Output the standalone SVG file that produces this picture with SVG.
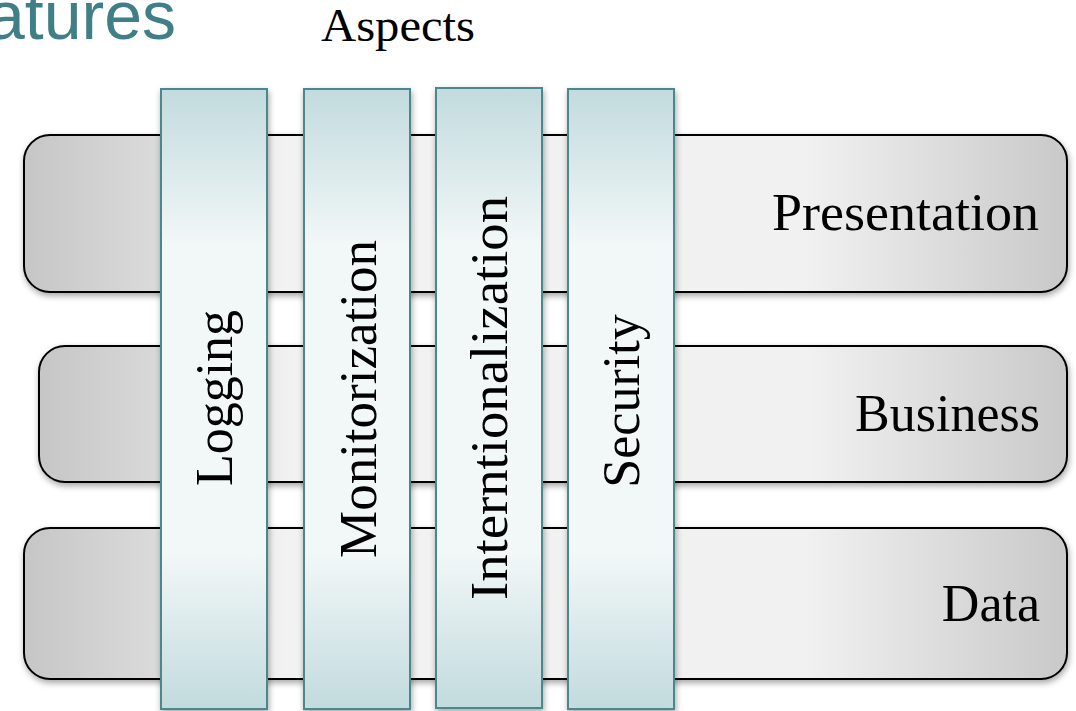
<svg xmlns="http://www.w3.org/2000/svg" width="1076" height="711" viewBox="0 0 1076 711">
  <defs>
    <linearGradient id="layerGrad" x1="0" y1="0" x2="1" y2="0">
      <stop offset="0" stop-color="#c6c6c6"/>
      <stop offset="0.13" stop-color="#dbdbdb"/>
      <stop offset="0.25" stop-color="#f2f2f2"/>
      <stop offset="0.75" stop-color="#f1f1f1"/>
      <stop offset="1" stop-color="#c9c9c9"/>
    </linearGradient>
    <linearGradient id="colGrad" x1="0" y1="0" x2="0" y2="1">
      <stop offset="0" stop-color="#c2dbde"/>
      <stop offset="0.25" stop-color="#f2f7f7"/>
      <stop offset="0.75" stop-color="#f2f7f7"/>
      <stop offset="1" stop-color="#c2dbde"/>
    </linearGradient>
    <filter id="shadow" x="-10%" y="-10%" width="120%" height="130%">
      <feDropShadow dx="1" dy="3" stdDeviation="3" flood-color="#000" flood-opacity="0.35"/>
    </filter>
  </defs>
  <style>
    .layer { fill: url(#layerGrad); stroke: #000; stroke-width: 2; filter: url(#shadow); }
    .col { fill: url(#colGrad); stroke: #4b878c; stroke-width: 2; filter: url(#shadow); }
    .lbl { font-family: "Liberation Serif", "Times New Roman", serif; font-size: 52px; fill: #000; }
    .vlbl { font-family: "Liberation Serif", "Times New Roman", serif; font-size: 52px; fill: #000; text-anchor: middle; }
    .title { font-family: "Liberation Sans", Arial, sans-serif; font-size: 68px; fill: #417f86; }
  </style>
  <rect width="1076" height="711" fill="#fff"/>

  <g id="title">
    <text class="title" x="176" y="39" text-anchor="end">atures</text>
  </g>
  <g id="aspects-label">
    <text class="lbl" x="398" y="41" text-anchor="middle" style="font-size:46px" textLength="154" lengthAdjust="spacingAndGlyphs">Aspects</text>
  </g>

  <g id="presentation">
    <rect class="layer" x="24" y="135" width="1043" height="157" rx="26" ry="26"/>
    <text class="lbl" x="1039" y="230" text-anchor="end" textLength="267" lengthAdjust="spacingAndGlyphs">Presentation</text>
  </g>
  <g id="business">
    <rect class="layer" x="39" y="346" width="1028" height="136" rx="26" ry="26"/>
    <text class="lbl" x="1040" y="431" text-anchor="end">Business</text>
  </g>
  <g id="data">
    <rect class="layer" x="24" y="528" width="1043" height="151" rx="26" ry="26"/>
    <text class="lbl" x="1040" y="621" text-anchor="end">Data</text>
  </g>

  <g id="logging">
    <rect class="col" x="161" y="89" width="106" height="620"/>
    <text class="vlbl" transform="translate(232,398) rotate(-90)">Logging</text>
  </g>
  <g id="monitorization">
    <rect class="col" x="304" y="89" width="106" height="620"/>
    <text class="vlbl" transform="translate(376,399) rotate(-90)" textLength="318" lengthAdjust="spacingAndGlyphs">Monitorization</text>
  </g>
  <g id="internationalization">
    <rect class="col" x="436" y="88" width="106" height="620"/>
    <text class="vlbl" transform="translate(507,398) rotate(-90)" textLength="404" lengthAdjust="spacingAndGlyphs">Interntionalization</text>
  </g>
  <g id="security">
    <rect class="col" x="568" y="89" width="106" height="620"/>
    <text class="vlbl" transform="translate(639,401) rotate(-90)">Security</text>
  </g>
</svg>
